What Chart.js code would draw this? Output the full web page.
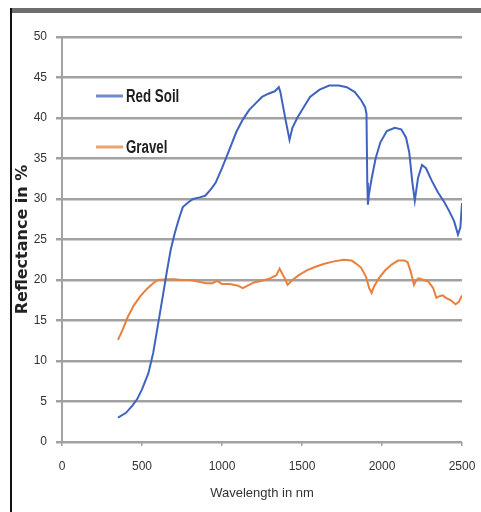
<!DOCTYPE html>
<html>
<head>
<meta charset="utf-8">
<script src="https://cdn.jsdelivr.net/npm/chart.js@4.4.1/dist/chart.umd.min.js"></script>
<style>
  html, body { margin: 0; padding: 0; background: #fff; }
  #wrap { width: 481px; height: 512px; position: relative; }
</style>
</head>
<body>
<div id="wrap"><canvas id="chart" width="481" height="512"></canvas></div>
<script>
// Red Soil spectrum (wavelength nm / reflectance %)
const redSoilWl = [350, 400, 440, 470, 500, 540, 570, 600, 630, 655, 680, 705, 730, 755, 790, 820, 860, 895, 930, 960,
    1000, 1040, 1090, 1130, 1170, 1210, 1250, 1290, 1330, 1355, 1365, 1378, 1400, 1422, 1440, 1470, 1500, 1550, 1610, 1670,
    1730, 1780, 1830, 1870, 1895, 1903, 1908, 1912, 1918, 1935, 1960, 1990, 2030, 2080, 2120, 2150, 2170, 2190, 2205, 2225,
    2250, 2275, 2310, 2350, 2390, 2420, 2450, 2475, 2490, 2500];
const redSoilVal = [3.0, 3.6, 4.5, 5.3, 6.5, 8.5, 11, 14.5, 18, 21, 23.8, 25.8, 27.5, 29, 29.6, 30.0, 30.2, 30.4, 31.2, 32,
    33.8, 35.8, 38.3, 39.8, 41.0, 41.8, 42.6, 43.0, 43.3, 43.8, 43.2, 41.8, 39.5, 37.3, 38.8, 40.0, 41.0, 42.6, 43.5, 44.0,
    44.0, 43.8, 43.2, 42.2, 41.3, 40.5, 32, 29.3, 30.5, 32.5, 35.0, 37.0, 38.4, 38.8, 38.6, 37.6, 35.8, 32, 29.8, 32.6,
    34.2, 33.8, 32.3, 30.8, 29.6, 28.5, 27.3, 25.6, 26.5, 29.5];

// Gravel spectrum
const gravelWl = [350, 380, 410, 450, 490, 530, 570, 600, 650, 700, 750, 800, 850, 900, 940, 970, 1000, 1050, 1100, 1130,
    1160, 1200, 1250, 1300, 1340, 1360, 1390, 1410, 1440, 1480, 1530, 1580, 1640, 1700, 1760, 1810, 1840, 1870, 1900, 1920,
    1935, 1950, 1980, 2020, 2060, 2100, 2140, 2160, 2180, 2200, 2215, 2230, 2260, 2290, 2320, 2340, 2360, 2380, 2400, 2430,
    2460, 2480, 2500];
const gravelVal = [12.6, 13.9, 15.4, 16.9, 18.0, 18.9, 19.6, 20.0, 20.1, 20.1, 20.0, 20.0, 19.8, 19.6, 19.6, 19.9, 19.5, 19.5, 19.3, 19.0,
    19.3, 19.7, 19.9, 20.2, 20.6, 21.4, 20.3, 19.4, 20.0, 20.6, 21.2, 21.6, 22.0, 22.3, 22.5, 22.4, 22.0, 21.5, 20.4, 19.0,
    18.4, 19.2, 20.2, 21.2, 21.9, 22.4, 22.4, 22.2, 21.0, 19.4, 20.0, 20.2, 20.0, 19.8, 19.0, 17.8, 18.0, 18.1, 17.8, 17.5,
    17.0, 17.3, 18.1];

const seriesLabels = ['Red Soil', 'Gravel'];
const xTicks = [0, 500, 1000, 1500, 2000, 2500];
const yTicks = [0, 5, 10, 15, 20, 25, 30, 35, 40, 45, 50];

const blue = '#3f63bf', orange = '#e9813c', grid = '#a2a2a2';
const sans = "'Liberation Sans', Arial, sans-serif";

const toPoints = (xs, ys) => xs.map((x, i) => ({x: x, y: ys[i]}));

// frame lines round the picture
const framePlugin = {
    id: 'frame',
    afterDraw(chart) {
        const ctx = chart.ctx;
        ctx.save();
        ctx.fillStyle = '#6e6e6e';
        ctx.fillRect(10, 8, 471, 5);
        ctx.fillStyle = '#111';
        ctx.fillRect(10, 8, 2, 504);
        ctx.restore();
    }
};

// legend inside the plot area, stacked, condensed bold text
const legendPlugin = {
    id: 'innerLegend',
    afterDatasetsDraw(chart) {
        const ctx = chart.ctx;
        const rows = [96, 147];
        ctx.save();
        chart.data.datasets.forEach((ds, i) => {
            const y = rows[i];
            ctx.strokeStyle = ds.borderColor;
            ctx.globalAlpha = 0.75;
            ctx.lineWidth = 3;
            ctx.beginPath();
            ctx.moveTo(96, y);
            ctx.lineTo(123, y);
            ctx.stroke();
            ctx.globalAlpha = 1;
            ctx.save();
            ctx.translate(126, y);
            ctx.scale(0.74, 1);
            ctx.fillStyle = '#1e1e1e';
            ctx.font = 'bold 18px ' + sans;
            ctx.textBaseline = 'middle';
            ctx.textAlign = 'left';
            ctx.fillText(ds.label, 0, 1);
            ctx.restore();
        });
        ctx.restore();
    }
};

new Chart(document.getElementById('chart'), {
    type: 'scatter',
    data: {
        datasets: [
            {label: seriesLabels[0], data: toPoints(redSoilWl, redSoilVal), showLine: true, borderColor: blue, backgroundColor: blue, borderWidth: 2, pointRadius: 0, tension: 0},
            {label: seriesLabels[1], data: toPoints(gravelWl, gravelVal), showLine: true, borderColor: orange, backgroundColor: orange, borderWidth: 2, pointRadius: 0, tension: 0}
        ]
    },
    options: {
        responsive: false,
        animation: false,
        layout: {padding: {left: 0, top: 37, right: 19, bottom: 0}},
        plugins: {legend: {display: false}, tooltip: {enabled: false}},
        scales: {
            x: {
                type: 'linear', min: 0, max: 2500,
                afterBuildTicks: s => { s.ticks = xTicks.map(v => ({value: v})); },
                afterFit: s => { s.height = 70; s.paddingLeft = 0; s.paddingRight = 0; },
                grid: {display: true, drawOnChartArea: false, drawTicks: true, tickLength: 4, color: grid, lineWidth: 1.5},
                border: {display: false},
                ticks: {padding: 13, color: '#333', font: {family: sans, size: 12}, maxRotation: 0, callback: v => String(v)},
                title: {display: true, text: 'Wavelength in nm', color: '#333', font: {family: sans, size: 13}, padding: {top: 0, bottom: 11}}
            },
            y: {
                min: 0, max: 50,
                afterBuildTicks: s => { s.ticks = yTicks.map(v => ({value: v})); },
                afterFit: s => { s.width = 62; },
                grid: {color: grid, lineWidth: 2.5, tickLength: 6, drawTicks: true},
                border: {display: true, color: grid, width: 2},
                ticks: {padding: 9, color: '#333', font: {family: sans, size: 12}, callback: v => String(v)},
                title: {display: true, text: 'Reflectance in %', color: '#222', font: {family: "'DejaVu Sans', sans-serif", size: 16, weight: 'bold'}, padding: {top: 13, bottom: 0}}
            }
        }
    },
    plugins: [framePlugin, legendPlugin]
});
</script>
</body>
</html>
